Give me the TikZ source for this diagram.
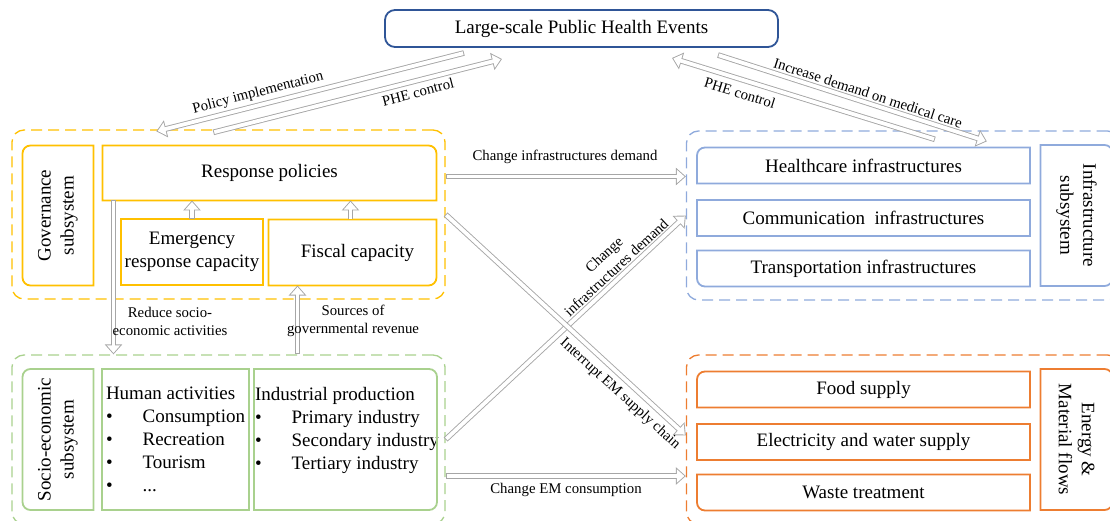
\documentclass[tikz,border=0pt]{standalone}
\usepackage{fontspec}
\setmainfont{Liberation Serif}
\usepackage{tikz}
\usetikzlibrary{arrows.meta}

\definecolor{govyellow}{HTML}{FFC000}
\definecolor{infblue}{HTML}{8FAADC}
\definecolor{socgreen}{HTML}{A9D18E}
\definecolor{emorange}{HTML}{ED7D31}
\definecolor{phenavy}{HTML}{2F5597}
\definecolor{flowgray}{HTML}{A6A6A6}

\newcommand{\bigtext}{\fontsize{19pt}{23pt}\selectfont}
\newcommand{\smalltext}{\fontsize{14.8pt}{18pt}\selectfont}

\tikzset{
  zone/.style={draw=#1, line width=1.3pt, dash pattern=on 11pt off 6pt,
    rounded corners=12pt, minimum width=433pt, minimum height=169pt},
  cell/.style={inner sep=0pt, outer sep=0pt, font=\bigtext, align=center},
  rim/.style={draw=#1, line width=1.8pt},
  % hollow block arrow: grey body first, white body on top
  flow/.style={draw=white, line width=3.8pt, shorten >=1.4pt, shorten <=0.9pt,
    -{Triangle[length=7.7pt, width=13.1pt]},
    preaction={draw=flowgray, line width=5.6pt, shorten >=0pt, shorten <=0pt,
      -{Triangle[length=10pt, width=17pt]}}},
  lbl/.style={font=\smalltext, align=center, inner sep=0pt},
}

\begin{document}
\begin{tikzpicture}[x=1pt,y=-1pt]
  \useasboundingbox (0,0) rectangle (1110,521);

  % dashed subsystem zones
  \node[zone=govyellow] (govgrp) at (228.5,214.5) {};
  \node[zone=infblue] (infgrp) at (903,215.5) {};
  \node[zone=socgreen] (socgrp) at (228.5,439.5) {};
  \node[zone=emorange] (emgrp) at (903,439.5) {};

  \node[cell, draw=phenavy, line width=1.8pt, rounded corners=10pt,
    minimum width=393pt, minimum height=37pt] (phe) at (581.5,28.5)
    {Large-scale Public Health Events};

  % governance
  \node[cell, minimum width=71pt, minimum height=140pt] (gov) at (58,215.5) {};
  \node[cell, rotate=90] (govtxt) at (gov) {Governance\\subsystem};
  \node[cell, minimum width=334pt, minimum height=55pt] (resp) at (269.5,173) {Response policies};
  \node[cell, rim=govyellow, minimum width=142pt, minimum height=66pt] (emerg) at (192,252)
    {Emergency\\response capacity};
  \node[cell, minimum width=168pt, minimum height=66pt] (fis) at (352.5,252.5) {\hspace{10pt}Fiscal capacity};
  \draw[rim=govyellow] (gov.north east) -- (gov.north) [rounded corners=8pt] -- (gov.north west)
    -- (gov.south west) -- (gov.south) [sharp corners] -- (gov.south east) -- cycle;
  \draw[rim=govyellow] (resp.south west) -- (resp.north west) -- (resp.north) [rounded corners=8pt]
    -- (resp.north east) -- (resp.east) [sharp corners] -- (resp.south east) -- cycle;
  \draw[rim=govyellow] (fis.north west) -- (fis.north east) -- (fis.east) [rounded corners=8pt]
    -- (fis.south east) -- (fis.south) [sharp corners] -- (fis.south west) -- cycle;

  % infrastructure
  \node[cell, minimum width=333pt, minimum height=36pt] (hc) at (863.5,165.5) {Healthcare infrastructures};
  \node[cell, rim=infblue, minimum width=333pt, minimum height=36pt] (comm) at (863.5,218)
    {Communication~ infrastructures};
  \node[cell, minimum width=333pt, minimum height=36pt] (trans) at (863.5,268.5) {Transportation infrastructures};
  \node[cell, minimum width=72pt, minimum height=141pt] (infsub) at (1076.5,215.5) {};
  \node[cell, rotate=-90] (infsubtxt) at (infsub) {Infrastructure\\subsystem};
  \draw[rim=infblue] (hc.south west) -- (hc.west) [rounded corners=8pt] -- (hc.north west)
    -- (hc.north) [sharp corners] -- (hc.north east) -- (hc.south east) -- cycle;
  \draw[rim=infblue] (trans.north west) -- (trans.north east) -- (trans.south east)
    -- (trans.south) [rounded corners=8pt] -- (trans.south west) -- (trans.west) [sharp corners] -- cycle;
  \draw[rim=infblue] (infsub.north west) -- (infsub.north) [rounded corners=8pt] -- (infsub.north east)
    -- (infsub.south east) -- (infsub.south) [sharp corners] -- (infsub.south west) -- cycle;

  % socio-economic
  \node[cell, minimum width=71pt, minimum height=141pt] (socsub) at (58,439.5) {};
  \node[cell, rotate=90] (socsubtxt) at (socsub) {Socio-economic\\subsystem};
  \node[cell, rim=socgreen, minimum width=147pt, minimum height=141pt] (human) at (175.5,439.5) {};
  \node[cell, minimum width=183pt, minimum height=141pt] (indus) at (345.5,439.5) {};
  \node[cell, align=left, anchor=north west] (humantxt) at (106,387)
    {Human activities\\ \textbullet\hspace{30pt}Consumption\\ \textbullet\hspace{30pt}Recreation\\
     \textbullet\hspace{30pt}Tourism\\ \textbullet\hspace{30pt}...};
  \node[cell, align=left, anchor=north west] (industxt) at (255,387)
    {Industrial production\\ \textbullet\hspace{30pt}Primary industry\\
     \textbullet\hspace{30pt}Secondary industry\\ \textbullet\hspace{30pt}Tertiary industry};
  \draw[rim=socgreen] (socsub.north east) -- (socsub.north) [rounded corners=8pt] -- (socsub.north west)
    -- (socsub.south west) -- (socsub.south) [sharp corners] -- (socsub.south east) -- cycle;
  \draw[rim=socgreen] (indus.north west) -- (indus.north) [rounded corners=8pt] -- (indus.north east)
    -- (indus.south east) -- (indus.south) [sharp corners] -- (indus.south west) -- cycle;

  % energy and material flows
  \node[cell, minimum width=333pt, minimum height=36pt] (food) at (863.5,389.5) {Food supply};
  \node[cell, rim=emorange, minimum width=333pt, minimum height=36pt] (elec) at (863.5,442)
    {Electricity and water supply};
  \node[cell, minimum width=333pt, minimum height=36pt] (waste) at (863.5,492.5) {Waste treatment};
  \node[cell, minimum width=72pt, minimum height=141pt] (emsub) at (1076.5,439.5) {};
  \node[cell, rotate=-90] (emsubtxt) at (emsub) {Energy \&\\Material flows};
  \draw[rim=emorange] (food.south west) -- (food.west) [rounded corners=8pt] -- (food.north west)
    -- (food.north) [sharp corners] -- (food.north east) -- (food.south east) -- cycle;
  \draw[rim=emorange] (waste.north west) -- (waste.north east) -- (waste.south east)
    -- (waste.south) [rounded corners=8pt] -- (waste.south west) -- (waste.west) [sharp corners] -- cycle;
  \draw[rim=emorange] (emsub.north west) -- (emsub.north) [rounded corners=8pt] -- (emsub.north east)
    -- (emsub.south east) -- (emsub.south) [sharp corners] -- (emsub.south west) -- cycle;

  % flows between subsystems
  \draw[flow] ([shift={(79,6)}]phe.south west) -- ([shift={(145,2)}]govgrp.north west);
  \draw[flow] ([shift={(202,3)}]govgrp.north west) -- ([shift={(117,12)}]phe.south west);
  \draw[flow] ([shift={(249,9)}]infgrp.north west) -- ([shift={(-106,11)}]phe.south east);
  \draw[flow] ([shift={(-60,8)}]phe.south east) -- ([shift={(301,11)}]infgrp.north west);
  \draw[flow] (emerg.north) -- (emerg.north |- resp.south);
  \draw[flow] ([xshift=-2pt]fis.north) -- ([xshift=-2pt]fis.north |- resp.south);
  \draw[flow] ([xshift=11pt]resp.south west) -- ([xshift=11pt]resp.south west |- socgrp.north);
  \draw[flow] ([xshift=-55pt]fis.south |- socgrp.north) -- ([xshift=-55pt]fis.south);
  \draw[flow] ([yshift=-3.5pt]govgrp.east |- resp.east) -- ([yshift=-3.5pt]infgrp.west |- resp.east);
  \draw[flow] (socgrp.east) -- (infgrp.west);
  \draw[flow] (govgrp.east) -- ([yshift=4pt]emgrp.west);
  \draw[flow] ([yshift=-36.5pt]socgrp.east) -- ([yshift=-36.5pt]emgrp.west);

  % flow labels
  \node[lbl, rotate=14.4] (polL) at (258,93) {Policy implementation};
  \node[lbl, rotate=14.4] (pheL) at (418,92) {PHE control};
  \node[lbl, rotate=-17.3] (pheR) at (740,93) {PHE control};
  \node[lbl, rotate=-18] (careL) at (868,93) {Increase demand on medical care};
  \node[lbl] (infL) at (565,157) {Change infrastructures demand};
  \node[lbl, rotate=42.9] (infX) at (610,261) {Change\\infrastructures demand};
  \node[lbl, rotate=-42.3] (emX) at (620,394) {Interrupt EM supply chain};
  \node[lbl] (emL) at (566,490) {Change EM consumption};
  \node[lbl] (redL) at (170,321) {Reduce socio-\\economic activities};
  \node[lbl] (revL) at (353,321) {Sources of\\governmental revenue};
\end{tikzpicture}
\end{document}
